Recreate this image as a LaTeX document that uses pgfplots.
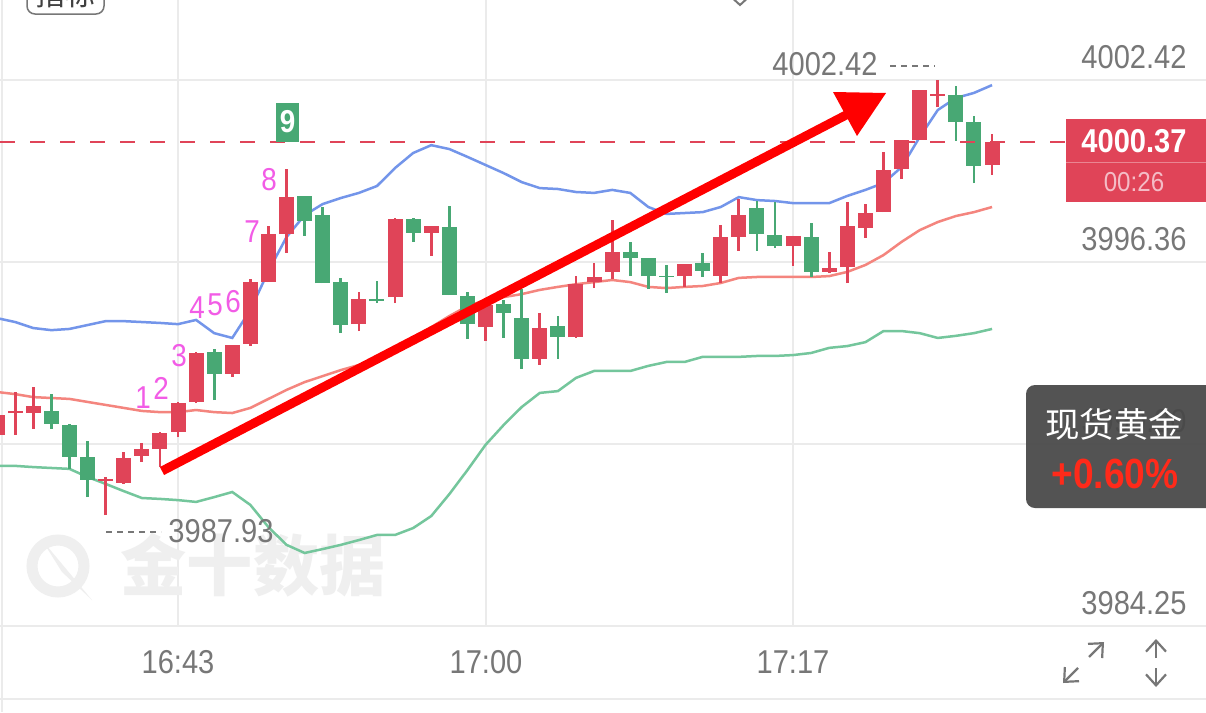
\documentclass[border=0pt]{standalone}
\usepackage{pgfplots}
\pgfplotsset{compat=1.18}
\usepackage{pgfplotstable}
\usetikzlibrary{arrows.meta}
\usepackage{fontspec}
\setmainfont{Liberation Sans}[FakeStretch=0.88]
\newfontfamily\cjk{Noto Sans CJK SC}
\definecolor{cup}{HTML}{E04458}
\definecolor{cdn}{HTML}{48A874}
\definecolor{bup}{HTML}{7395EA}
\definecolor{bmid}{HTML}{F4857E}
\definecolor{blo}{HTML}{74C69C}
\definecolor{gridc}{HTML}{EBEBEB}
\definecolor{lbl}{HTML}{777777}
\definecolor{mag}{HTML}{F25CE6}
\definecolor{darkbox}{HTML}{474747}
\definecolor{pct}{HTML}{FF2A1A}
\definecolor{wm}{HTML}{EFEFEF}
\definecolor{tmr}{HTML}{F4BCC6}

\pgfplotstableread{
m u c l
-10 3994.49 3992.03 3989.57
-9 3994.36 3991.96 3989.57
-8 3994.16 3991.86 3989.53
-7 3994.09 3991.83 3989.50
-6 3994.13 3991.80 3989.47
-5 3994.26 3991.70 3989.20
-4 3994.39 3991.60 3988.97
-3 3994.39 3991.50 3988.73
-2 3994.36 3991.40 3988.50
-1 3994.33 3991.36 3988.47
0 3994.29 3991.36 3988.43
1 3994.43 3991.43 3988.37
2 3993.99 3991.36 3988.53
3 3993.83 3991.33 3988.70
4 3994.76 3991.50 3988.27
5 3996.06 3991.80 3987.53
6 3997.19 3992.10 3986.94
7 3997.92 3992.36 3986.67
8 3998.29 3992.56 3986.80
9 3998.49 3992.76 3986.94
10 3998.66 3992.93 3987.10
11 3998.89 3993.16 3987.27
12 3999.49 3993.50 3987.27
13 3999.99 3993.83 3987.50
14 4000.25 3994.19 3987.90
15 4000.12 3994.56 3988.63
16 3999.86 3994.89 3989.43
17 3999.59 3995.09 3990.27
18 3999.32 3995.19 3990.93
19 3999.02 3995.29 3991.53
20 3998.82 3995.43 3992.00
21 3998.79 3995.53 3992.06
22 3998.69 3995.62 3992.50
23 3998.66 3995.69 3992.73
24 3998.76 3995.76 3992.73
25 3998.66 3995.69 3992.73
26 3998.19 3995.53 3992.90
27 3997.96 3995.49 3993.03
28 3997.99 3995.53 3993.03
29 3998.02 3995.56 3993.20
30 3998.19 3995.66 3993.20
31 3998.52 3995.83 3993.20
32 3998.42 3995.86 3993.23
33 3998.39 3995.86 3993.23
34 3998.32 3995.86 3993.26
35 3998.32 3995.86 3993.33
36 3998.32 3995.89 3993.50
37 3998.56 3996.03 3993.56
38 3998.76 3996.26 3993.69
39 3998.99 3996.59 3994.06
40 3999.52 3997.03 3994.06
41 4000.52 3997.42 3993.99
42 4001.42 3997.69 3993.83
43 4001.82 3997.89 3993.90
44 4001.99 3998.02 3993.99
45 4002.25 3998.19 3994.13
}\bands

\pgfplotstableread{
m o h l c
-10 3990.60 3991.33 3990.53 3991.26
-9 3991.33 3992.03 3990.60 3991.40
-8 3991.33 3992.20 3990.80 3991.56
-4 3989.07 3989.20 3987.93 3989.13
-3 3989.00 3990.03 3988.97 3989.83
-2 3989.90 3990.33 3989.70 3990.13
-1 3990.13 3990.70 3989.53 3990.66
0 3990.70 3991.70 3990.53 3991.66
1 3991.70 3993.36 3991.66 3993.33
3 3992.63 3993.59 3992.53 3993.59
4 3993.63 3995.79 3993.56 3995.69
5 3995.69 3997.56 3995.69 3997.29
6 3997.29 3999.46 3996.66 3998.52
10 3994.29 3995.36 3994.06 3995.13
12 3995.19 3997.82 3994.99 3997.79
14 3997.33 3997.56 3996.56 3997.56
17 3994.19 3994.99 3993.73 3994.93
20 3993.13 3994.66 3992.93 3994.16
22 3993.86 3995.89 3993.83 3995.62
23 3995.69 3996.33 3995.49 3995.86
24 3996.03 3997.76 3995.79 3996.69
28 3995.89 3996.29 3995.53 3996.29
30 3995.89 3997.59 3995.66 3997.19
31 3997.19 3998.46 3996.73 3997.92
34 3996.89 3997.23 3996.23 3997.23
36 3996.03 3996.69 3995.99 3996.16
37 3996.19 3998.36 3995.66 3997.56
38 3997.49 3998.29 3997.16 3997.99
39 3998.02 4000.02 3998.02 3999.42
40 3999.46 4000.42 3999.12 4000.42
41 4000.42 4002.09 4000.42 4002.09
42 4001.89 4002.42 4001.52 4001.95
45 3999.59 4000.62 3999.26 4000.37
}\upc

\pgfplotstableread{
m o h l c
-7 3991.40 3991.96 3990.80 3990.97
-6 3990.93 3990.97 3989.47 3989.87
-5 3989.87 3990.40 3988.53 3989.10
2 3993.36 3993.46 3991.76 3992.63
7 3998.56 3998.56 3997.23 3997.72
8 3997.92 3998.19 3995.66 3995.66
9 3995.69 3995.83 3993.99 3994.26
11 3995.13 3995.73 3994.99 3995.06
13 3997.79 3997.82 3997.03 3997.33
15 3997.53 3998.22 3995.26 3995.26
16 3995.23 3995.36 3993.79 3994.29
18 3994.96 3995.09 3993.83 3994.66
19 3994.49 3995.46 3992.80 3993.13
21 3994.23 3994.56 3993.13 3993.86
25 3996.69 3997.03 3995.89 3996.49
26 3996.49 3996.49 3995.46 3995.89
27 3995.89 3996.26 3995.33 3995.86
29 3996.33 3996.66 3995.86 3996.06
32 3998.16 3998.39 3996.73 3997.29
33 3997.26 3998.36 3996.83 3996.89
35 3997.19 3997.66 3995.86 3996.03
43 4001.92 4002.22 4000.39 4001.02
44 4001.02 4001.22 3998.99 3999.56
}\dnc

\tikzset{pix/.style={x=0.1mm,y=-0.1mm,yshift=7.12cm}}
\newcommand\lblfont{\fontsize{9.4}{9.4}\selectfont}
\pgfplotsset{candle/.style 2 args={draw=none, mark=none, forget plot,
  error bars/.cd, y dir=plus, y explicit, error mark=none,
  error bar style={line width=#1, draw=#2}}}

\begin{document}
\begin{tikzpicture}
% background grid and watermark (pixel coordinates)
\begin{scope}[pix]
\fill[white] (0,0) rectangle (1206,712);
\draw[gridc, line width=0.15mm] (0,80)--(1206,80) (0,262)--(1206,262) (0,444)--(1206,444) (0,626)--(1206,626) (0,699)--(1206,699);
\draw[gridc, line width=0.15mm] (178,0)--(178,626) (486,0)--(486,626) (793,0)--(793,626) (2,0)--(2,712);
\node[font=\cjk\bfseries\fontsize{18.8}{18.8}\selectfont, text=wm] at (253,565) {金十数据};
\draw[wm, line width=1.1mm] (58,566) circle (26);
\fill[wm] (42,540)--(92,600)--(62,572)--cycle;
\end{scope}

\begin{axis}[at={(0,0)}, anchor=south west, scale only axis,
  width=12.06cm, height=7.12cm,
  xmin=-9.840, xmax=56.827, ymin=3981.374, ymax=4005.084,
  hide axis, clip=true]
\addplot[bup, line width=0.25mm, mark=none] table[x=m,y=u] {\bands};
\addplot[bmid, line width=0.25mm, mark=none] table[x=m,y=c] {\bands};
\addplot[blo, line width=0.25mm, mark=none] table[x=m,y=l] {\bands};
% up candles: wicks and bodies
\addplot[candle={0.27mm}{cup}]
  table[x=m, y=l, y error plus expr={\thisrow{h}-\thisrow{l}}] {\upc};
\addplot[candle={1.5mm}{cup}]
  table[x=m, y=o, y error plus expr={\thisrow{c}-\thisrow{o}}] {\upc};
% down candles
\addplot[candle={0.27mm}{cdn}]
  table[x=m, y=l, y error plus expr={\thisrow{h}-\thisrow{l}}] {\dnc};
\addplot[candle={1.5mm}{cdn}]
  table[x=m, y=c, y error plus expr={\thisrow{o}-\thisrow{c}}] {\dnc};
\end{axis}

% overlay annotations (pixel coordinates)
\begin{scope}[pix]
\draw[cup, line width=0.25mm, dash pattern=on 1.5mm off 1.5mm] (0,142)--(1066,142);
\begin{scope}[every node/.style={text=mag, font=\fontsize{9}{9}\selectfont, inner sep=0pt}]
\node at (143,398) {1};
\node at (161,388) {2};
\node at (179,356) {3};
\node at (197,308) {4};
\node at (215,305) {5};
\node at (233,302) {6};
\node at (252,232) {7};
\node at (269,180) {8};
\end{scope}
\fill[cdn] (276,103) rectangle (299,142);
\node[text=white, font=\bfseries\fontsize{9}{9}\selectfont, inner sep=0pt] at (287.5,122) {9};
\draw[red, line width=0.9mm] (162,471)--(848,114);
\fill[red] (833,92)--(886,93)--(857,136)--cycle;
\node[text=lbl, font=\lblfont, inner sep=0pt] at (825,64) {4002.42};
\draw[lbl, line width=0.2mm, dash pattern=on 0.6mm off 0.5mm] (890,66)--(935,66);
\node[text=lbl, font=\lblfont, inner sep=0pt] at (221,531) {3987.93};
\draw[lbl, line width=0.2mm, dash pattern=on 0.6mm off 0.5mm] (106,532)--(161,532);
\begin{scope}[every node/.style={text=lbl, font=\lblfont, inner sep=0pt}]
\node at (1134,57) {4002.42};
\node at (1134,239) {3996.36};
\node at (1134,421) {3990.30};
\node at (1134,603) {3984.25};
\node at (178,662) {16:43};
\node at (486,662) {17:00};
\node at (793,662) {17:17};
\end{scope}
\fill[cup] (1066,119) rectangle (1206,202);
\draw[white, opacity=0.35, line width=0.1mm] (1066,162)--(1206,162);
\node[text=white, font=\bfseries\fontsize{9.4}{9.4}\selectfont, inner sep=0pt] at (1134,141) {4000.37};
\node[text=tmr, font=\fontsize{7.8}{7.8}\selectfont, inner sep=0pt] at (1134,182) {00:26};
\fill[darkbox, opacity=0.93, rounded corners=0.9mm] (1026,385) rectangle (1240,508);
\node[text=white, font=\cjk\fontsize{9.8}{9.8}\selectfont, inner sep=0pt] at (1114,424) {现货黄金};
\node[text=pct, font=\bfseries\fontsize{12}{12}\selectfont, inner sep=0pt] at (1115,474) {+0.60\%};
\draw[lbl, line width=0.22mm, -{Straight Barb[length=1.1mm,width=2mm]}] (1078,668)--(1063,683);
\draw[lbl, line width=0.22mm, -{Straight Barb[length=1.1mm,width=2mm]}] (1089,657)--(1104,642);
\draw[lbl, line width=0.22mm, -{Straight Barb[length=1.1mm,width=2mm]}] (1156,658)--(1156,639);
\draw[lbl, line width=0.22mm, -{Straight Barb[length=1.1mm,width=2mm]}] (1156,668)--(1156,687);
\draw[lbl, line width=0.15mm, rounded corners=0.8mm] (27,-30) rectangle (104,14);
\node[text=black!75, font=\cjk\fontsize{8.5}{8.5}\selectfont, inner sep=0pt] at (65.5,-6) {指标};
\draw[lbl, line width=0.2mm] (728,-6)--(740,5)--(752,-6);
\end{scope}
\pgfresetboundingbox
\path (0,0) rectangle (12.06cm,7.12cm);
\end{tikzpicture}
\end{document}
